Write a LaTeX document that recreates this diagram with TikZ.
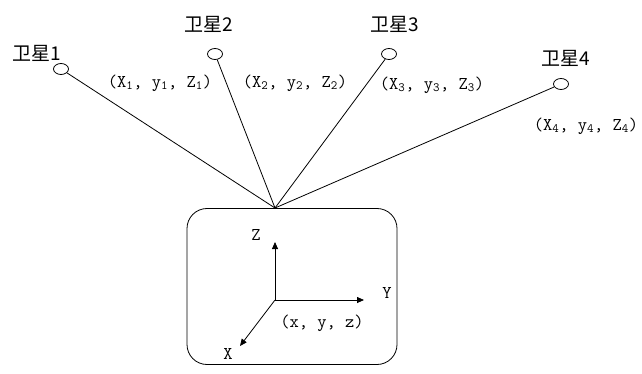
\documentclass[tikz,border=0pt]{standalone}
\usepackage{fontspec}
\newfontfamily\cjkfont{Noto Sans CJK SC}
\usetikzlibrary{arrows.meta, positioning, shapes.geometric}

\begin{document}
\begin{tikzpicture}[
            x=1pt, y=-1pt,
            line width=0.8pt,
            >={Triangle[length=7pt,width=6pt]},
            sat/.style={ellipse, draw, minimum width=15pt, minimum height=11pt, inner sep=0pt},
            satname/.style={font=\cjkfont\fontsize{19}{21}\selectfont, inner sep=0pt},
            coord/.style={font=\ttfamily\fontsize{18}{20}\selectfont, inner sep=0pt},
            link/.style={draw},
            axis/.style={draw, ->},
            receiver/.style={draw, rounded corners=20pt, minimum width=210pt, minimum height=156pt}
        ]
        \useasboundingbox (0,0) rectangle (642,374);

        % --- Satellites ---
        \node[sat] (sat1) at (61,69) {};
        \node[sat] (sat2) at (215,54) {};
        \node[sat] (sat3) at (389,54) {};
        \node[sat] (sat4) at (561,84) {};

        \node[satname] (name1) at (37,53) {卫星1};
        \node[satname] (name2) at (209,24) {卫星2};
        \node[satname] (name3) at (395,24) {卫星3};
        \node[satname] (name4) at (566,58) {卫星4};

        \node[coord] (pos1) at (160,83) {(X\textsubscript{1}, y\textsubscript{1}, Z\textsubscript{1})};
        \node[coord] (pos2) at (295,83) {(X\textsubscript{2}, y\textsubscript{2}, Z\textsubscript{2})};
        \node[coord] (pos3) at (432,85) {(X\textsubscript{3}, y\textsubscript{3}, Z\textsubscript{3})};
        \node[coord] (pos4) at (586,126) {(X\textsubscript{4}, y\textsubscript{4}, Z\textsubscript{4})};

        % --- Receiver ---
        \node[receiver] (rcv) at (292,286.5) {};
        \coordinate (top) at (275,208);

        \path[link] (sat1) -- (top);
        \path[link] (sat2) -- (top);
        \path[link] (sat3) -- (top);
        \path[link] (sat4) -- (top);

        % --- Local axes ---
        \coordinate (origin) at (275,300);
        \coordinate (zend) at (275,242);
        \coordinate (yend) at (364,300);
        \coordinate (xend) at (240,346);

        \path[axis] (origin) -- (zend);
        \path[axis] (origin) -- (yend);
        \path[axis] (origin) -- (xend);

        \node[coord] (zlbl) at (256,235) {Z};
        \node[coord] (ylbl) at (387,293) {Y};
        \node[coord] (xlbl) at (228,354) {X};
        \node[coord] (here) at (322,323) {(x, y, z)};

\end{tikzpicture}
\end{document}
